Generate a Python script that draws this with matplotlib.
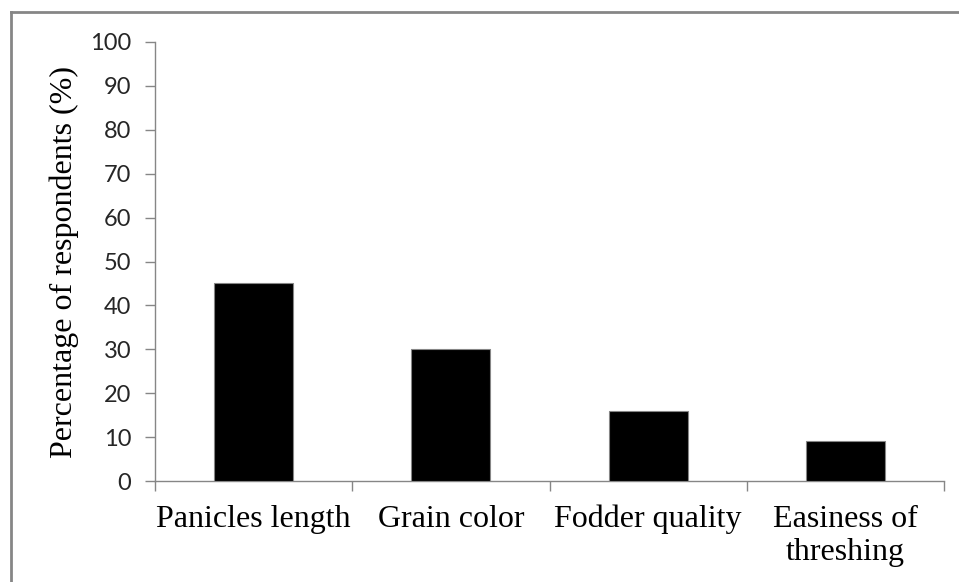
import numpy as np
import matplotlib.pyplot as plt
from matplotlib.lines import Line2D

# data
categories = ['Panicles length', 'Grain color', 'Fodder quality', 'Easiness of\nthreshing']
values = [45, 30, 16, 9]
yticks = np.arange(0, 101, 10)

grey = '#868686'

fig = plt.figure(figsize=(9.59, 5.82), dpi=100)
ax = fig.add_axes([155 / 959, 1 - 481 / 582, (944 - 155) / 959, (481 - 42) / 582])

x = np.arange(len(categories))
ax.bar(x, values, width=0.4, color='black', edgecolor=grey, linewidth=0.8, zorder=3)

ax.set_xlim(-0.5, len(categories) - 0.5)
ax.set_ylim(0, 100)
ax.set_yticks(yticks)
ax.set_yticklabels([str(v) for v in yticks], family='Lato', fontsize=17, color='#262626')

# labels at category centres, tick marks at category boundaries
ax.set_xticks(x)
ax.set_xticklabels(categories, family='Liberation Serif', fontsize=23, linespacing=1.2)
ax.set_xticks(np.arange(len(categories) + 1) - 0.5, minor=True)
ax.tick_params(axis='x', which='major', length=0, pad=17)
ax.tick_params(axis='x', which='minor', length=7, width=1, color=grey, direction='out')
ax.tick_params(axis='y', length=7, width=1, color=grey, direction='out', pad=10)

for side in ['top', 'right']:
    ax.spines[side].set_visible(False)
for side in ['left', 'bottom']:
    ax.spines[side].set_color(grey)
    ax.spines[side].set_linewidth(1)

ax.set_ylabel('Percentage of respondents (%)', family='Liberation Serif', fontsize=23, labelpad=8)

# chart area border (only top and left visible in the crop)
fig.add_artist(Line2D([11 / 959, 1], [1 - 12 / 582, 1 - 12 / 582], color=grey, lw=2, transform=fig.transFigure))
fig.add_artist(Line2D([11 / 959, 11 / 959], [0, 1 - 12 / 582], color=grey, lw=2, transform=fig.transFigure))

fig.savefig('out.png', dpi=100)
